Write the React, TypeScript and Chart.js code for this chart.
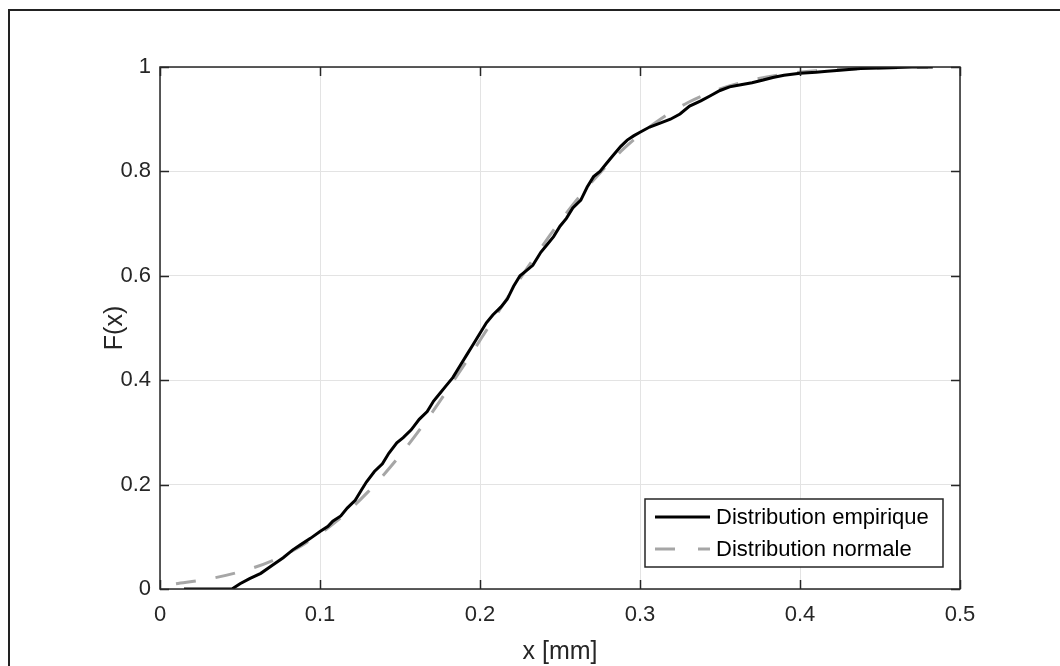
import React, { useEffect, useRef } from "react";
import { Chart, registerables } from "chart.js";
Chart.register(...registerables);

const seriesLabels = ["Distribution empirique", "Distribution normale"];
const xTitle = "x [mm]";
const yTitle = "F(x)";
const xTicks = [0, 0.1, 0.2, 0.3, 0.4, 0.5];
const yTicks = [0, 0.2, 0.4, 0.6, 0.8, 1];

const empiricalX = [
  0.015, 0.045, 0.05, 0.056, 0.063, 0.07, 0.077, 0.083, 0.088, 0.094, 0.1, 0.105, 0.108, 0.113,
  0.117, 0.122, 0.126, 0.129, 0.134, 0.139, 0.143, 0.148, 0.152, 0.157, 0.162, 0.167, 0.171,
  0.175, 0.179, 0.183, 0.188, 0.192, 0.196, 0.2, 0.204, 0.208, 0.213, 0.217, 0.221, 0.225,
  0.229, 0.233, 0.238, 0.242, 0.246, 0.25, 0.254, 0.258, 0.263, 0.267, 0.271, 0.275, 0.279,
  0.283, 0.288, 0.292, 0.296, 0.3, 0.306, 0.313, 0.319, 0.325, 0.331, 0.338, 0.344, 0.35,
  0.356, 0.363, 0.37, 0.377, 0.383, 0.39, 0.4, 0.41, 0.417, 0.425, 0.438, 0.45, 0.46, 0.47, 0.483,
];
const empiricalY = [
  0, 0, 0.01, 0.02, 0.03, 0.045, 0.06, 0.075, 0.085, 0.097, 0.11, 0.12, 0.13, 0.14, 0.155,
  0.17, 0.19, 0.205, 0.225, 0.24, 0.26, 0.28, 0.29, 0.305, 0.325, 0.34, 0.36, 0.375, 0.39,
  0.405, 0.43, 0.45, 0.47, 0.49, 0.51, 0.525, 0.54, 0.555, 0.58, 0.6, 0.61, 0.62, 0.645,
  0.66, 0.675, 0.695, 0.71, 0.73, 0.745, 0.77, 0.79, 0.8, 0.815, 0.83, 0.848, 0.86, 0.868,
  0.875, 0.885, 0.893, 0.9, 0.91, 0.925, 0.935, 0.945, 0.955, 0.962, 0.966, 0.97, 0.975,
  0.98, 0.984, 0.988, 0.99, 0.992, 0.994, 0.997, 0.998, 0.999, 1, 1,
];

const normalX = [
  0.01, 0.03, 0.05, 0.07, 0.09, 0.11, 0.13, 0.15, 0.17, 0.19, 0.21, 0.23, 0.25, 0.27, 0.29,
  0.31, 0.33, 0.35, 0.37, 0.39, 0.41, 0.43, 0.45, 0.47, 0.48,
];
const normalY = [
  0.01, 0.019, 0.033, 0.054, 0.086, 0.129, 0.186, 0.256, 0.338, 0.429, 0.524, 0.617, 0.704,
  0.78, 0.844, 0.894, 0.932, 0.958, 0.975, 0.986, 0.993, 0.996, 0.998, 0.999, 0.9995,
];

const AXIS = "#262626";
const GRAY = "#a6a6a6";
const FONT = '"Liberation Sans", Arial, sans-serif';

const decor = {
  id: "decor",
  beforeDraw(chart: any) {
    const ctx = chart.ctx;
    ctx.save();
    ctx.fillStyle = "#fff";
    ctx.fillRect(0, 0, chart.width, chart.height);
    ctx.restore();
  },
  afterDatasetsDraw(chart: any) {
    const { ctx, chartArea: a, scales } = chart;
    const x = scales.x;
    const y = scales.y;
    ctx.save();
    // outer figure border
    ctx.strokeStyle = "#222";
    ctx.lineWidth = 2;
    ctx.strokeRect(9, 10, 3000, 3000);
    // axes box
    ctx.strokeStyle = AXIS;
    ctx.lineWidth = 1.5;
    ctx.strokeRect(a.left, a.top, a.right - a.left, a.bottom - a.top);
    const tl = 9;
    ctx.beginPath();
    xTicks.forEach((v) => {
      const px = Math.round(x.getPixelForValue(v)) + 0.5;
      ctx.moveTo(px, a.bottom);
      ctx.lineTo(px, a.bottom - tl);
      ctx.moveTo(px, a.top);
      ctx.lineTo(px, a.top + tl);
    });
    yTicks.forEach((v) => {
      const py = Math.round(y.getPixelForValue(v)) + 0.5;
      ctx.moveTo(a.left, py);
      ctx.lineTo(a.left + tl, py);
      ctx.moveTo(a.right, py);
      ctx.lineTo(a.right - tl, py);
    });
    ctx.stroke();

    // axis titles
    ctx.fillStyle = AXIS;
    ctx.font = `25px ${FONT}`;
    ctx.textAlign = "center";
    ctx.textBaseline = "middle";
    ctx.fillText(xTitle, (a.left + a.right) / 2, 652);
    ctx.save();
    ctx.translate(115, (a.top + a.bottom) / 2);
    ctx.rotate(-Math.PI / 2);
    ctx.fillText(yTitle, 0, 0);
    ctx.restore();

    // legend
    const lx = 645, ly = 499, lw = 298, lh = 68;
    ctx.fillStyle = "#fff";
    ctx.fillRect(lx, ly, lw, lh);
    ctx.strokeStyle = AXIS;
    ctx.lineWidth = 1.5;
    ctx.strokeRect(lx, ly, lw, lh);
    const rows = [517, 549];
    const styles = [
      { color: "#000", dash: [] as number[] },
      { color: GRAY, dash: [20, 23] },
    ];
    rows.forEach((ry, i) => {
      ctx.beginPath();
      ctx.setLineDash(styles[i].dash);
      ctx.strokeStyle = styles[i].color;
      ctx.lineWidth = 3;
      ctx.moveTo(655, ry);
      ctx.lineTo(710, ry);
      ctx.stroke();
      ctx.setLineDash([]);
      ctx.fillStyle = "#000";
      ctx.font = `22px ${FONT}`;
      ctx.textAlign = "left";
      ctx.textBaseline = "middle";
      ctx.fillText(seriesLabels[i], 716, ry + 1);
    });
    ctx.restore();
  },
};

export default function App() {
  const ref = useRef<HTMLCanvasElement | null>(null);
  useEffect(() => {
    if (!ref.current) return;
    const chart = new Chart(ref.current, {
      type: "scatter",
      data: {
        datasets: [
          {
            label: seriesLabels[0],
            data: empiricalX.map((v, i) => ({ x: v, y: empiricalY[i] })),
            showLine: true,
            borderColor: "#000",
            backgroundColor: "#000",
            borderWidth: 3,
            borderJoinStyle: "miter",
            pointRadius: 0,
          },
          {
            label: seriesLabels[1],
            data: normalX.map((v, i) => ({ x: v, y: normalY[i] })),
            showLine: true,
            borderColor: GRAY,
            backgroundColor: GRAY,
            borderWidth: 3,
            borderDash: [20, 20],
            cubicInterpolationMode: "monotone",
            pointRadius: 0,
          },
        ],
      },
      options: {
        animation: false,
        responsive: false,
        maintainAspectRatio: false,
        layout: { padding: { top: 67, right: 100, left: 0, bottom: 0 } },
        plugins: { legend: { display: false }, tooltip: { enabled: false } },
        scales: {
          x: {
            type: "linear",
            min: 0,
            max: 0.5,
            afterFit: (s: any) => {
              s.height = 77;
            },
            afterBuildTicks: (s: any) => {
              s.ticks = xTicks.map((v) => ({ value: v }));
            },
            ticks: {
              color: AXIS,
              font: { family: FONT, size: 22 },
              padding: 13,
              maxRotation: 0,
              callback: (v: any) => String(Number(Number(v).toFixed(2))),
            },
            grid: { color: "#e3e3e3", lineWidth: 1, drawTicks: false },
            border: { display: false },
          },
          y: {
            type: "linear",
            min: 0,
            max: 1,
            afterFit: (s: any) => {
              s.width = 160;
            },
            afterBuildTicks: (s: any) => {
              s.ticks = yTicks.map((v) => ({ value: v }));
            },
            ticks: {
              color: AXIS,
              font: { family: FONT, size: 22 },
              padding: 9,
              callback: (v: any) => String(Number(Number(v).toFixed(2))),
            },
            grid: { color: "#e3e3e3", lineWidth: 1, drawTicks: false },
            border: { display: false },
          },
        },
      },
      plugins: [decor],
    } as any);
    return () => chart.destroy();
  }, []);
  return (
    <div style={{ position: "absolute", left: 0, top: 0, width: 1060, height: 666, background: "#fff" }}>
      <canvas ref={ref} width={1060} height={666} style={{ width: 1060, height: 666, display: "block" }} />
    </div>
  );
}
